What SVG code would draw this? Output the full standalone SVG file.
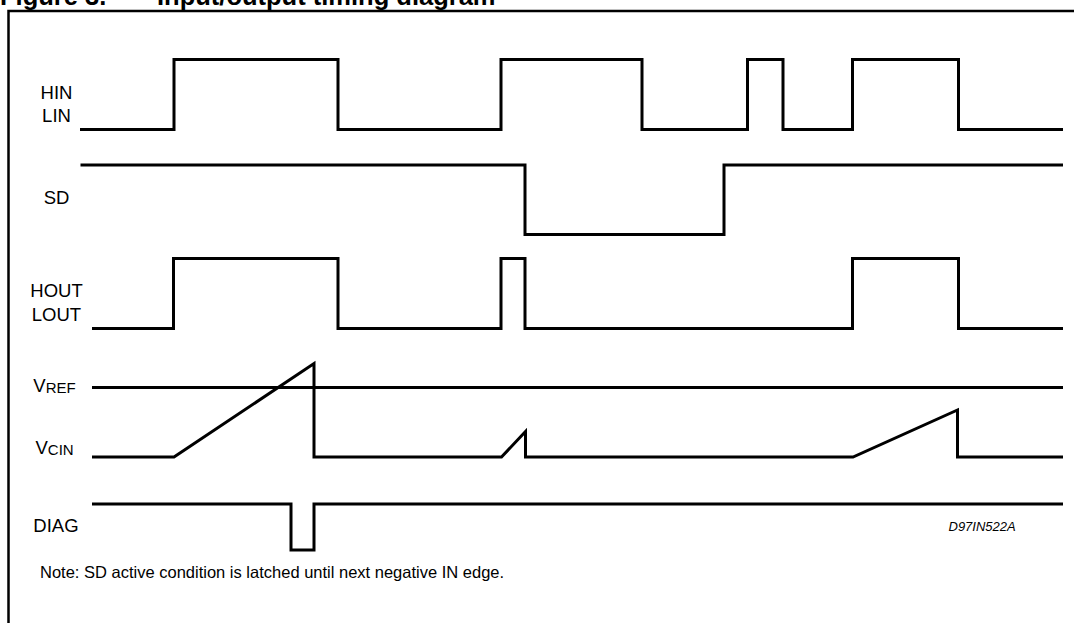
<svg xmlns="http://www.w3.org/2000/svg" width="1074" height="623" viewBox="0 0 1074 623">
<style>
  .wave { fill: none; stroke: #000; stroke-width: 3; stroke-linejoin: miter; stroke-linecap: butt; }
  .frame { fill: none; stroke: #000; stroke-width: 2.5; }
  .lbl { font-family: "Liberation Sans", Arial, sans-serif; font-size: 18.5px; fill: #000; }
  .sub { font-size: 15px; }
  .title { font-family: "Liberation Sans", Arial, sans-serif; font-size: 25.5px; font-weight: bold; fill: #000; }
  .note { font-family: "Liberation Sans", Arial, sans-serif; font-size: 16.5px; fill: #000; }
  .code { font-family: "Liberation Sans", Arial, sans-serif; font-size: 13px; font-style: italic; fill: #000; }
</style>
<rect width="1074" height="623" fill="#fff"/>
<text class="title" x="0" y="5">Figure 3.</text>
<text class="title" x="157" y="5">Input/output timing diagram</text>
<path class="frame" d="M8.5,623 V11 H1074"/>

<g id="hin-lin">
  <text class="lbl" x="56.5" y="98.5" text-anchor="middle">HIN</text>
  <text class="lbl" x="56.5" y="121.5" text-anchor="middle">LIN</text>
</g>
<g id="sd">
  <text class="lbl" x="56.5" y="204" text-anchor="middle">SD</text>
</g>
<g id="hout-lout">
  <text class="lbl" x="56.5" y="297" text-anchor="middle">HOUT</text>
  <text class="lbl" x="56.5" y="321" text-anchor="middle">LOUT</text>
</g>
<g id="vref">
  <text class="lbl" x="33.3" y="392.3">V<tspan class="sub" dy="1">REF</tspan></text>
</g>
<g id="vcin">
  <text class="lbl" x="35.5" y="453.5">V<tspan class="sub" dy="1">CIN</tspan></text>
</g>
<g id="diag">
  <text class="lbl" x="33.3" y="532">DIAG</text>
</g>

<g id="waveforms">
  <path class="wave" d="M80,129.5 H174 V59.5 H338 V129.5 H501 V59.5 H642 V129.5 H747.5 V59.5 H783 V129.5 H852.5 V59.5 H958.5 V129.5 H1063"/>
  <path class="wave" d="M80.5,165 H525 V234.5 H724 V165 H1063"/>
  <path class="wave" d="M92,328.5 H173.5 V258.5 H338 V328.5 H501 V258.5 H525 V328.5 H852.5 V258.5 H958.5 V328.5 H1063"/>
  <path class="wave" d="M92,387.5 H1063"/>
  <path class="wave" d="M92,457 H174 L314,363.5 V457 H501.5 L525.5,431.5 V457 H853 L957.5,410 V457 H1063"/>
  <path class="wave" d="M92,504 H291 V550 H314 V504 H1063"/>
</g>

<text class="code" x="948.5" y="530.7">D97IN522A</text>
<text class="note" x="40" y="578">Note: SD active condition is latched until next negative IN edge.</text>
</svg>
